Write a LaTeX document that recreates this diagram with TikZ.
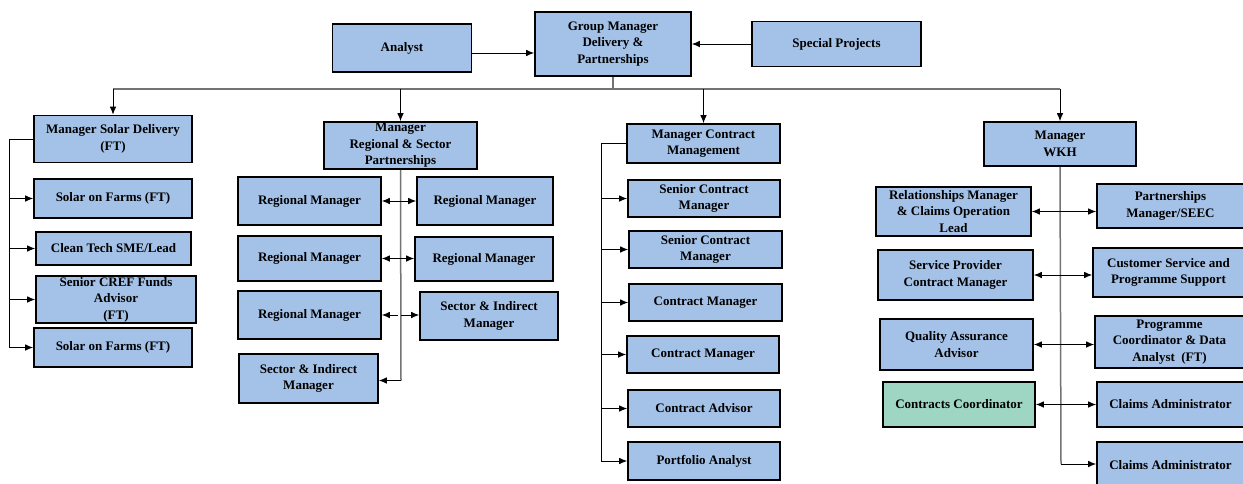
\documentclass[tikz,border=0pt]{standalone}
\usepackage{fontspec}
\setmainfont{Liberation Serif}
\usetikzlibrary{arrows.meta}

\definecolor{boxblue}{RGB}{164,194,231}
\definecolor{boxgreen}{RGB}{158,213,195}

\begin{document}
\begin{tikzpicture}[
  x=1pt, y=-1pt,
  box/.style={draw, line width=1.6pt, fill=boxblue, align=center, inner sep=1pt,
              font=\bfseries\fontsize{13}{16.5}\selectfont},
  green/.style={box, fill=boxgreen},
  dims/.style 2 args={minimum width=#1pt, minimum height=#2pt},
  arr/.style={-{Latex[length=8pt,width=6.5pt]}, line width=0.9pt},
  dbl/.style={{Latex[length=8pt,width=6.5pt]}-{Latex[length=8pt,width=6.5pt]}, line width=0.9pt},
  trunk/.style={line width=1.5pt, draw=black!55},
  spine/.style={line width=0.9pt},
]
  \useasboundingbox (0,0) rectangle (1243,483);

  % top row
  \node[box, dims={139}{48}] (analyst) at (402,48) {Analyst};
  \node[box, dims={156}{64}] (gm) at (613,44) {Group Manager\\ Delivery \&\\ Partnerships};
  \node[box, dims={169}{45}] (special) at (836.5,44) {Special Projects};

  \draw[arr] ([yshift=-5pt]analyst.east) -- ([yshift=-5pt]analyst.east -| gm.west);
  \draw[arr] (special.west) -- (gm.east);

  % managers
  \node[box, dims={158}{47}] (msd) at (113,139) {Manager Solar Delivery\\ (FT)};
  \node[box, dims={153}{47}] (mrsp) at (400.5,145.5) {Manager\\ Regional \& Sector\\ Partnerships};
  \node[box, dims={153}{39}] (mcm) at (703.5,143.5) {Manager Contract\\ Management};
  \node[box, dims={152}{44}] (wkh) at (1060,144) {Manager\\ WKH};

  \draw[trunk] (gm.south) -- ++(0,12) coordinate (bus);
  \draw[trunk] (bus -| msd.north) -- (bus -| wkh.north);
  \foreach \m in {msd,mrsp,mcm,wkh}
    \draw[arr] (bus -| \m.north) -- (\m.north);

  % solar delivery team
  \node[box, dims={158}{39}] (sof1) at (113,198.5) {Solar on Farms (FT)};
  \node[box, dims={155}{33}] (ctsme) at (113.5,248.5) {Clean Tech SME/Lead};
  \node[box, dims={160}{43}] (cref) at (116,299.5) {Senior CREF Funds\\ Advisor\\ (FT)};
  \node[box, dims={158}{39}] (sof2) at (113,347.5) {Solar on Farms (FT)};

  \coordinate (c1) at (9,347.5);
  \draw[spine] (msd.west) -| (c1);
  \foreach \b in {sof1,ctsme,cref,sof2}
    \draw[arr] (\b.west -| c1) -- (\b.west);

  % regional and sector team
  \node[box, dims={143}{48}] (rm1) at (309.5,201) {Regional Manager};
  \node[box, dims={136}{48}] (rm2) at (485,201) {Regional Manager};
  \node[box, dims={143}{45}] (rm3) at (309.5,258.5) {Regional Manager};
  \node[box, dims={138}{44}] (rm4) at (484,259) {Regional Manager};
  \node[box, dims={143}{48}] (rm5) at (309.5,315) {Regional Manager};
  \node[box, dims={138}{48}] (sim1) at (489,316) {Sector \& Indirect\\ Manager};
  \node[box, dims={139}{49}] (sim2) at (308.5,378.5) {Sector \& Indirect\\ Manager};

  \coordinate (c2) at (401,380.5);
  \draw[trunk] (mrsp.south) -- (c2);
  \draw[dbl] (rm1.east) -- (rm1.east -| rm2.west);
  \draw[dbl] (rm3.east) -- (rm3.east -| rm4.west);
  \draw[arr] ([xshift=-3pt]rm5.east -| c2) -- (rm5.east);
  \draw[arr] (rm5.east -| c2) -- (rm5.east -| sim1.west);
  \draw[arr] (c2) -- (c2 -| sim2.east);

  % contract management team
  \node[box, dims={152}{37}] (scm1) at (704,198.5) {Senior Contract\\ Manager};
  \node[box, dims={153}{37}] (scm2) at (705.5,249.5) {Senior Contract\\ Manager};
  \node[box, dims={153}{37}] (cm1) at (705.5,302.5) {Contract Manager};
  \node[box, dims={152}{37}] (cm2) at (703,354.5) {Contract Manager};
  \node[box, dims={152}{37}] (cadv) at (704,408.5) {Contract Advisor};
  \node[box, dims={152}{38}] (pa) at (704,461) {Portfolio Analyst};

  \coordinate (c3) at (601,461);
  \draw[spine] (mcm.west) -| (c3);
  \foreach \b in {scm1,scm2,cm1,cm2,cadv,pa}
    \draw[arr] (\b.west -| c3) -- (\b.west);

  % WKH team
  \node[box, dims={155}{49}] (rmcol) at (953.5,211.5) {Relationships Manager\\ \& Claims Operation\\ Lead};
  \node[box, dims={147}{44}] (pmseec) at (1170.5,206) {Partnerships\\ Manager/SEEC};
  \node[box, dims={155}{50}] (spcm) at (955.5,275) {Service Provider\\ Contract Manager};
  \node[box, dims={151}{49}] (csps) at (1168.5,272.5) {Customer Service and\\ Programme Support};
  \node[box, dims={153}{51}] (qaa) at (956.5,344.5) {Quality Assurance\\ Advisor};
  \node[box, dims={149}{52}] (pcda) at (1169.5,342) {Programme\\ Coordinator \& Data\\ Analyst~~(FT)};
  \node[green, dims={152}{45}] (ccoord) at (959,404.5) {Contracts Coordinator};
  \node[box, dims={147}{45}] (cadm1) at (1170.5,404.5) {Claims Administrator};
  \node[box, dims={147}{47}] (cadm2) at (1170.5,465.5) {Claims Administrator};

  \coordinate (c4) at (1061,464);
  \draw[trunk] (wkh.south) -- (c4);
  \foreach \l/\r in {rmcol/pmseec,spcm/csps,qaa/pcda,ccoord/cadm1}
    \draw[dbl] (\l.east) -- (\l.east -| \r.west);
  \draw[arr] (c4) -- (c4 -| cadm2.west);
\end{tikzpicture}
\end{document}
